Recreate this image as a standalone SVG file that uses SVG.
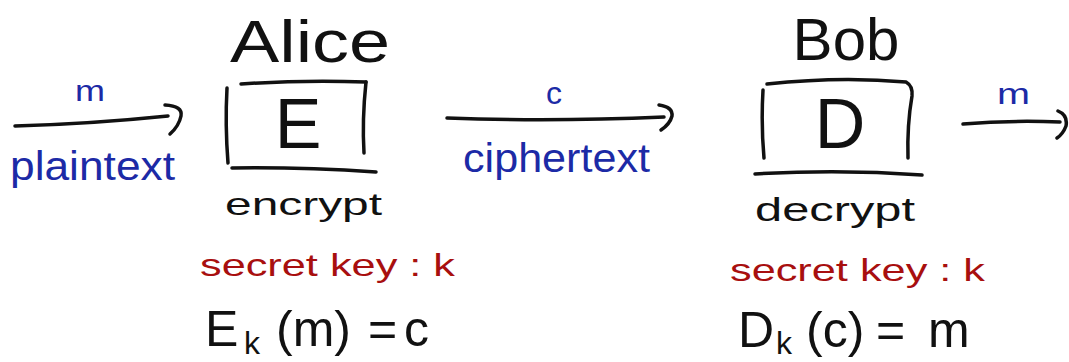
<svg xmlns="http://www.w3.org/2000/svg" width="1069" height="362" viewBox="0 0 1069 362">
<style>
.ln{fill:none;stroke:#111;stroke-width:3.5;stroke-linecap:round;stroke-linejoin:round}
.k{fill:#111;font-family:"Liberation Sans",Arial,sans-serif}
.b{fill:#1c2aa6;font-family:"Liberation Sans",Arial,sans-serif}
.r{fill:#a80f0f;font-family:"Liberation Sans",Arial,sans-serif}
</style>
<rect width="1069" height="362" fill="#fff"/>
<g id="connectors">
  <g id="arrow-m-in">
    <path class="ln" d="M15,126 Q90,124 168,116"/>
    <path class="ln" d="M165,105 Q183,106 181,116 Q179,126 170,134"/>
  </g>
  <g id="arrow-c">
    <path class="ln" d="M447,118 Q550,122 664,117"/>
    <path class="ln" d="M659,105 Q673,107 672,116 Q670,124 661,130"/>
  </g>
  <g id="arrow-m-out">
    <path class="ln" d="M963,124 Q1010,120 1060,122"/>
    <path class="ln" d="M1058,111 Q1068,115 1066,126 Q1063,134 1057,138"/>
  </g>
</g>
<g id="labels">
  <text class="b" x="75" y="101" font-size="30" textLength="30" lengthAdjust="spacingAndGlyphs">m</text>
  <text class="b" x="10" y="180" font-size="40" textLength="165" lengthAdjust="spacingAndGlyphs">plaintext</text>
  <text class="b" x="554" y="104" font-size="32" text-anchor="middle">c</text>
  <text class="b" x="463" y="172" font-size="40" textLength="187" lengthAdjust="spacingAndGlyphs">ciphertext</text>
  <text class="b" x="997" y="104" font-size="30" textLength="33" lengthAdjust="spacingAndGlyphs">m</text>
</g>
<g id="alice">
  <text class="k" x="230" y="62" font-size="60" textLength="160" lengthAdjust="spacingAndGlyphs">Alice</text>
  <path class="ln" d="M227,88 Q225,125 228,163"/>
  <path class="ln" d="M241,84 Q300,80 366,82"/>
  <path class="ln" d="M366,82 Q362,120 364,153"/>
  <path class="ln" d="M232,168 Q300,167 376,172"/>
  <text class="k" x="298" y="148" font-size="70" text-anchor="middle">E</text>
  <text class="k" x="225" y="215" font-size="32" textLength="157" lengthAdjust="spacingAndGlyphs">encrypt</text>
  <text class="r" x="200" y="276" font-size="32" textLength="255" lengthAdjust="spacingAndGlyphs">secret key : k</text>
  <text class="k" y="346" font-size="50"><tspan x="205">E</tspan><tspan x="244" y="354" font-size="32">k</tspan><tspan x="276" y="346">(m)</tspan><tspan x="368">=</tspan><tspan x="404">c</tspan></text>
</g>
<g id="bob">
  <text class="k" x="846" y="60" font-size="60" text-anchor="middle">Bob</text>
  <path class="ln" d="M763,90 Q761,125 764,158"/>
  <path class="ln" d="M767,84 Q840,76 906,82 Q913,86 912,96 Q907,125 908,158"/>
  <path class="ln" d="M755,174 Q840,169 922,175"/>
  <text class="k" x="840" y="148" font-size="70" text-anchor="middle">D</text>
  <text class="k" x="755" y="221" font-size="34" textLength="160" lengthAdjust="spacingAndGlyphs">decrypt</text>
  <text class="r" x="730" y="281" font-size="32" textLength="255" lengthAdjust="spacingAndGlyphs">secret key : k</text>
  <text class="k" y="347" font-size="50"><tspan x="738">D</tspan><tspan x="776" y="354" font-size="32">k</tspan><tspan x="806" y="347">(c)</tspan><tspan x="876">=</tspan><tspan x="928">m</tspan></text>
</g>
</svg>
